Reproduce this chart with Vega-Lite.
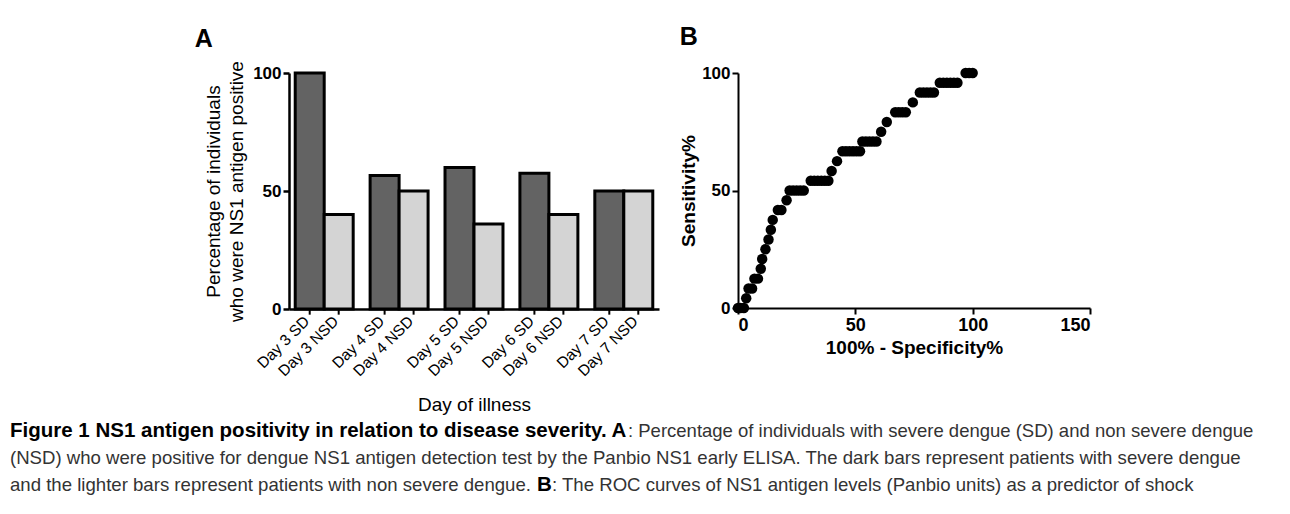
{
  "$schema": "https://vega.github.io/schema/vega-lite/v6.json",
  "background": "white",
  "padding": {"left": 10, "top": 25, "right": 0, "bottom": 0},
  "spacing": 4,
  "vconcat": [
    {
      "hconcat": [
        {
          "width": 164,
          "height": 1,
          "data": {"values": [{"spacer": 1}]},
          "mark": {"type": "rect", "color": "white"},
          "encoding": {}
        },
        {
          "width": 370,
          "height": 236,
          "title": {"text": "A", "anchor": "start", "fontSize": 25, "fontWeight": "bold", "font": "Liberation Sans", "color": "black", "dx": -10, "offset": 9},
          "data": {"values": [
            {"day": "Day 3", "group": "SD", "label": "Day 3 SD", "value": 100},
            {"day": "Day 3", "group": "NSD", "label": "Day 3 NSD", "value": 40},
            {"day": "Day 4", "group": "SD", "label": "Day 4 SD", "value": 56.6},
            {"day": "Day 4", "group": "NSD", "label": "Day 4 NSD", "value": 50},
            {"day": "Day 5", "group": "SD", "label": "Day 5 SD", "value": 60},
            {"day": "Day 5", "group": "NSD", "label": "Day 5 NSD", "value": 36},
            {"day": "Day 6", "group": "SD", "label": "Day 6 SD", "value": 57.5},
            {"day": "Day 6", "group": "NSD", "label": "Day 6 NSD", "value": 40},
            {"day": "Day 7", "group": "SD", "label": "Day 7 SD", "value": 50},
            {"day": "Day 7", "group": "NSD", "label": "Day 7 NSD", "value": 50}
          ]},
          "encoding": {
            "x": {"field": "day", "type": "nominal", "scale": {"paddingInner": 0.226, "paddingOuter": 0.083},
                  "axis": {"title": "Day of illness", "labels": false, "ticks": false, "domainWidth": 2.5, "titleFontSize": 19, "titleFontWeight": "normal", "titlePadding": 86}},
            "xOffset": {"field": "group", "type": "nominal", "sort": ["SD", "NSD"], "scale": {"paddingInner": 0, "paddingOuter": 0}}
          },
          "layer": [
            {
              "mark": {"type": "bar", "stroke": "black", "strokeWidth": 3},
              "encoding": {
                "y": {"field": "value", "type": "quantitative", "scale": {"domain": [0, 100]},
                      "axis": {"values": [0, 50, 100], "title": ["Percentage of individuals", "who were NS1 antigen positive"], "titleFontSize": 19, "titleFontWeight": "normal", "titlePadding": 6, "titleLineHeight": 23, "labelFontSize": 17, "labelFontWeight": "bold", "labelPadding": 2, "tickSize": 6, "tickWidth": 2.5, "domainWidth": 2.5}},
                "fill": {"field": "group", "type": "nominal", "scale": {"domain": ["SD", "NSD"], "range": ["#636363", "#d4d4d4"]}, "legend": null}
              }
            },
            {
              "mark": {"type": "rule", "color": "black", "strokeWidth": 2},
              "encoding": {"y": {"datum": 0}, "y2": {"datum": -2.4}}
            },
            {
              "mark": {"type": "text", "angle": 315, "align": "right", "baseline": "middle", "dx": -9, "dy": 5, "fontSize": 15.5, "font": "Liberation Sans", "color": "black"},
              "encoding": {"y": {"datum": 0}, "text": {"field": "label"}}
            }
          ]
        },
        {
          "width": 352,
          "height": 235,
          "title": {"text": "B", "anchor": "start", "fontSize": 25, "fontWeight": "bold", "font": "Liberation Sans", "color": "black", "offset": 14},
          "data": {"values": [
            {"fpr": 0, "sens": 0}, {"fpr": 1, "sens": 0}, {"fpr": 2.5, "sens": 0},
            {"fpr": 3.5, "sens": 4.17},
            {"fpr": 4.5, "sens": 8.33}, {"fpr": 6, "sens": 8.33},
            {"fpr": 7, "sens": 12.5}, {"fpr": 8.5, "sens": 12.5},
            {"fpr": 9.7, "sens": 16.67},
            {"fpr": 10.3, "sens": 20.83},
            {"fpr": 11.7, "sens": 25},
            {"fpr": 13, "sens": 29.17},
            {"fpr": 14, "sens": 33.33},
            {"fpr": 14.8, "sens": 37.5},
            {"fpr": 17, "sens": 41.67}, {"fpr": 18.5, "sens": 41.67},
            {"fpr": 20.7, "sens": 45.83},
            {"fpr": 22, "sens": 50}, {"fpr": 23.5, "sens": 50}, {"fpr": 25, "sens": 50}, {"fpr": 26.5, "sens": 50}, {"fpr": 28, "sens": 50},
            {"fpr": 31, "sens": 54.17}, {"fpr": 32.5, "sens": 54.17}, {"fpr": 34, "sens": 54.17}, {"fpr": 35.5, "sens": 54.17}, {"fpr": 37, "sens": 54.17}, {"fpr": 38.5, "sens": 54.17},
            {"fpr": 39.9, "sens": 58.33},
            {"fpr": 42.2, "sens": 62.5},
            {"fpr": 44.5, "sens": 66.67}, {"fpr": 46, "sens": 66.67}, {"fpr": 47.5, "sens": 66.67}, {"fpr": 49, "sens": 66.67}, {"fpr": 50.5, "sens": 66.67}, {"fpr": 52, "sens": 66.67},
            {"fpr": 53, "sens": 70.83}, {"fpr": 54.5, "sens": 70.83}, {"fpr": 56, "sens": 70.83}, {"fpr": 57.5, "sens": 70.83}, {"fpr": 59, "sens": 70.83},
            {"fpr": 61, "sens": 75},
            {"fpr": 63.4, "sens": 79.17},
            {"fpr": 67, "sens": 83.33}, {"fpr": 68.5, "sens": 83.33}, {"fpr": 70, "sens": 83.33}, {"fpr": 71.5, "sens": 83.33},
            {"fpr": 74.5, "sens": 87.5},
            {"fpr": 77.5, "sens": 91.67}, {"fpr": 79, "sens": 91.67}, {"fpr": 80.5, "sens": 91.67}, {"fpr": 82, "sens": 91.67}, {"fpr": 83.5, "sens": 91.67},
            {"fpr": 86, "sens": 95.83}, {"fpr": 87.5, "sens": 95.83}, {"fpr": 89, "sens": 95.83}, {"fpr": 90.5, "sens": 95.83}, {"fpr": 92, "sens": 95.83}, {"fpr": 93.5, "sens": 95.83},
            {"fpr": 97, "sens": 100}, {"fpr": 98.5, "sens": 100}, {"fpr": 100, "sens": 100}
          ]},
          "mark": {"type": "circle", "size": 110, "color": "black", "opacity": 1},
          "encoding": {
            "x": {"field": "fpr", "type": "quantitative", "scale": {"domain": [0, 150]},
                  "axis": {"values": [0, 50, 100, 150], "title": "100% - Specificity%", "titleFontSize": 19, "titleFontWeight": "bold", "titlePadding": 4, "labelFontSize": 18, "labelFontWeight": "bold", "labelPadding": 2, "tickSize": 6, "tickWidth": 2, "domainWidth": 2}},
            "y": {"field": "sens", "type": "quantitative", "scale": {"domain": [0, 100]},
                  "axis": {"values": [0, 50, 100], "title": "Sensitivity%", "titleFontSize": 19, "titleFontWeight": "bold", "titlePadding": 3, "labelFontSize": 17, "labelFontWeight": "bold", "labelPadding": 2, "tickSize": 6, "tickWidth": 2, "domainWidth": 2}}
          }
        }
      ],
      "spacing": 20
    },
    {
      "width": 1280,
      "height": 80,
      "data": {"values": [
        {"line": 1, "seg": "b1", "text": "Figure 1 NS1 antigen positivity in relation to disease severity. A"},
        {"line": 1, "seg": "r1", "text": ": Percentage of individuals with severe dengue (SD) and non severe dengue"},
        {"line": 2, "seg": "r0", "text": "(NSD) who were positive for dengue NS1 antigen detection test by the Panbio NS1 early ELISA. The dark bars represent patients with severe dengue"},
        {"line": 3, "seg": "r0", "text": "and the lighter bars represent patients with non severe dengue. "},
        {"line": 3, "seg": "b3", "text": "B"},
        {"line": 3, "seg": "r3", "text": ": The ROC curves of NS1 antigen levels (Panbio units) as a predictor of shock"}
      ]},
      "encoding": {
        "x": {"datum": 0, "type": "quantitative", "scale": {"domain": [0, 1]}, "axis": null},
        "y": {"field": "line", "type": "ordinal", "scale": {"padding": 0.5}, "axis": null},
        "text": {"field": "text"}
      },
      "layer": [
        {"transform": [{"filter": "datum.seg === 'b1'"}],
         "mark": {"type": "text", "align": "left", "baseline": "middle", "font": "Liberation Sans", "fontSize": 20.5, "fontWeight": "bold", "color": "black"}},
        {"transform": [{"filter": "datum.seg === 'r1'"}],
         "mark": {"type": "text", "align": "left", "baseline": "middle", "font": "Liberation Sans", "fontSize": 18.5, "color": "#333333", "dx": 618}},
        {"transform": [{"filter": "datum.seg === 'r0'"}],
         "mark": {"type": "text", "align": "left", "baseline": "middle", "font": "Liberation Sans", "fontSize": 18.6, "color": "#333333"}},
        {"transform": [{"filter": "datum.seg === 'b3'"}],
         "mark": {"type": "text", "align": "left", "baseline": "middle", "font": "Liberation Sans", "fontSize": 20.5, "fontWeight": "bold", "color": "black", "dx": 527}},
        {"transform": [{"filter": "datum.seg === 'r3'"}],
         "mark": {"type": "text", "align": "left", "baseline": "middle", "font": "Liberation Sans", "fontSize": 18.6, "color": "#333333", "dx": 542}}
      ]
    }
  ],
  "config": {
    "view": {"stroke": null},
    "axis": {"grid": false, "domainColor": "black", "tickColor": "black", "labelColor": "black", "titleColor": "black", "labelFont": "Liberation Sans", "titleFont": "Liberation Sans"}
  }
}
